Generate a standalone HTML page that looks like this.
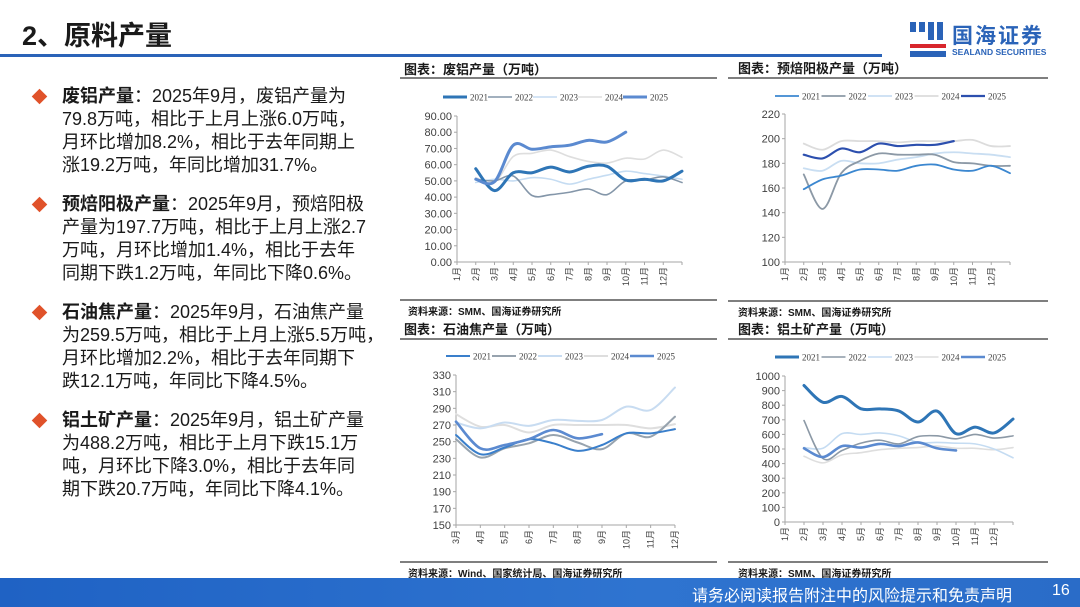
<!DOCTYPE html>
<html><head><meta charset="utf-8">
<style>
*{margin:0;padding:0;box-sizing:border-box}
body{width:1080px;height:607px;overflow:hidden;background:#fff;position:relative;font-family:"Liberation Sans","Noto Sans CJK SC",sans-serif;color:#1a1a1a}
.abs{position:absolute}
.h1{left:22px;top:14px;font-size:27px;font-weight:bold}
.bullet{left:34px;width:11px;height:11px;background:#e0522a;transform:rotate(45deg)}
.para{left:62px;font-size:18px;line-height:23px;white-space:nowrap}
.para b{font-weight:bold}
.ctitle{font-size:13px;font-weight:bold}
.src{font-size:10px;font-weight:bold}
.hl{height:2px;background:#7f7f7f}
</style></head><body>
<div class="abs h1">2、原料产量</div>
<div class="abs" style="left:0;top:54px;width:882px;height:3px;background:#2a63b8"></div>
<div class="abs" style="left:908px;top:20px;width:150px;height:40px">
 <svg width="40" height="40"><rect x="2" y="2" width="6" height="10" fill="#2a63b8"/><rect x="11" y="2" width="6" height="10" fill="#2a63b8"/><rect x="20" y="2" width="6" height="18" fill="#2a63b8"/><rect x="29" y="2" width="6" height="18" fill="#2a63b8"/><rect x="2" y="24" width="36" height="4" fill="#d8262c"/><rect x="2" y="31" width="36" height="6" fill="#2a63b8"/></svg>
 <div class="abs" style="left:44px;top:0;font-size:21px;font-weight:bold;color:#2a63b8;letter-spacing:2px">国海证券</div>
 <div class="abs" style="left:44px;top:27px;font-size:8.5px;font-weight:bold;color:#2a63b8;white-space:nowrap">SEALAND SECURITIES</div>
</div>

<div class="abs bullet" style="top:91px"></div>
<div class="abs para" style="top:85px"><b>废铝产量</b>：2025年9月，废铝产量为<br>79.8万吨，相比于上月上涨6.0万吨，<br>月环比增加8.2%，相比于去年同期上<br>涨19.2万吨，年同比增加31.7%。</div>
<div class="abs bullet" style="top:199px"></div>
<div class="abs para" style="top:193px"><b>预焙阳极产量</b>：2025年9月，预焙阳极<br>产量为197.7万吨，相比于上月上涨2.7<br>万吨，月环比增加1.4%，相比于去年<br>同期下跌1.2万吨，年同比下降0.6%。</div>
<div class="abs bullet" style="top:307px"></div>
<div class="abs para" style="top:301px"><b>石油焦产量</b>：2025年9月，石油焦产量<br>为259.5万吨，相比于上月上涨5.5万吨，<br>月环比增加2.2%，相比于去年同期下<br>跌12.1万吨，年同比下降4.5%。</div>
<div class="abs bullet" style="top:415px"></div>
<div class="abs para" style="top:409px"><b>铝土矿产量</b>：2025年9月，铝土矿产量<br>为488.2万吨，相比于上月下跌15.1万<br>吨，月环比下降3.0%，相比于去年同<br>期下跌20.7万吨，年同比下降4.1%。</div>

<div class="abs ctitle" style="left:404px;top:59px">图表：废铝产量（万吨）</div>
<div class="abs hl" style="left:400px;top:77px;width:317px"></div>
<div class="abs hl" style="left:400px;top:299px;width:317px"></div>
<div class="abs src" style="left:408px;top:303px">资料来源：SMM、国海证券研究所</div>

<div class="abs ctitle" style="left:738px;top:58px">图表：预焙阳极产量（万吨）</div>
<div class="abs hl" style="left:728px;top:77px;width:320px"></div>
<div class="abs hl" style="left:728px;top:300px;width:320px"></div>
<div class="abs src" style="left:738px;top:304px">资料来源：SMM、国海证券研究所</div>

<div class="abs ctitle" style="left:404px;top:319px">图表：石油焦产量（万吨）</div>
<div class="abs hl" style="left:400px;top:338px;width:317px"></div>
<div class="abs hl" style="left:400px;top:561px;width:317px"></div>
<div class="abs src" style="left:408px;top:565px">资料来源：Wind、国家统计局、国海证券研究所</div>

<div class="abs ctitle" style="left:738px;top:319px">图表：铝土矿产量（万吨）</div>
<div class="abs hl" style="left:728px;top:338px;width:320px"></div>
<div class="abs hl" style="left:728px;top:561px;width:320px"></div>
<div class="abs src" style="left:738px;top:565px">资料来源：SMM、国海证券研究所</div>

<div class="abs" style="left:0;top:578px;width:1080px;height:29px;background:linear-gradient(90deg,#1f62c4,#2f74d0 60%,#2a6cc8)"></div>
<div class="abs" style="left:692px;top:582px;font-size:16px;color:#fff;white-space:nowrap">请务必阅读报告附注中的风险提示和免责声明</div>
<div class="abs" style="left:1052px;top:582px;font-size:16px;color:#fff">16</div>

<svg id="charts" class="abs" style="left:0;top:0" width="1080" height="607"></svg>

<script>
const years = ["2021","2022","2023","2024","2025"];
const monthsFull = ["1月","2月","3月","4月","5月","6月","7月","8月","9月","10月","11月","12月"];
const monthsCoke = ["3月","4月","5月","6月","7月","8月","9月","10月","11月","12月"];
const yTicks1 = ["0.00","10.00","20.00","30.00","40.00","50.00","60.00","70.00","80.00","90.00"];
const yTicks2 = ["100","120","140","160","180","200","220"];
const yTicks3 = ["150","170","190","210","230","250","270","290","310","330"];
const yTicks4 = ["0","100","200","300","400","500","600","700","800","900","1000"];
// chart1 scrap aluminum
const scrap2021 = [57.5,44,55,55,58.5,55.5,59,59,50.5,51,50,56];
const scrap2022 = [51,50,53,41,41.5,43,45,41.5,50,50.5,52.5,49];
const scrap2023 = [49,51,50,52,51,48,51,53.5,56,54.5,53,51];
const scrap2024 = [52,49,65,67,69,65,62,61,64,63.5,69,64.5];
const scrap2025 = [51,49.5,72,69.5,71,72,75,74,80];
// chart2 anode
const anode2021 = [159,167,170,175,175,174,178,179,175,174,178,172];
const anode2022 = [171,143,172,182,188,187,187,187,181,180,178,178];
const anode2023 = [176,174,182,180,180,183,185,188,189,188,187,185];
const anode2024 = [196,191,198,198,198,197,198,198,198,199,194,194];
const anode2025 = [187,184,192,189,196,194,195,195,198];
// chart3 petroleum coke (Mar-Dec)
const coke2021 = [258,235,243,253,248,239,246,260,260,265];
const coke2022 = [253,231,242,248,258,249,241,260,256,280];
const coke2023 = [273,266,273,269,276,275,276,292,288,315];
const coke2024 = [283,268,270,261,270,270,270,270,266,271];
const coke2025 = [274,242,246,253,264,254,259];
// chart4 bauxite
const baux2021 = [935,820,860,775,775,760,685,760,605,650,610,705];
const baux2022 = [695,435,490,540,560,535,585,590,570,600,575,590];
const baux2023 = [510,505,605,600,610,590,545,545,540,535,500,440];
const baux2024 = [450,405,460,475,495,505,510,520,505,505,495,510];
const baux2025 = [505,445,520,510,535,520,545,505,490];

const NS="http://www.w3.org/2000/svg";
const svg=document.getElementById('charts');
function mk(tag,attrs,parent){const e=document.createElementNS(NS,tag);for(const k in attrs)e.setAttribute(k,attrs[k]);(parent||svg).appendChild(e);return e;}
function smooth(pts){let d="M"+pts[0][0]+","+pts[0][1];for(let i=0;i<pts.length-1;i++){const p0=pts[i-1]||pts[i],p1=pts[i],p2=pts[i+1],p3=pts[i+2]||p2;const c1=[p1[0]+(p2[0]-p0[0])/6,p1[1]+(p2[1]-p0[1])/6],c2=[p2[0]-(p3[0]-p1[0])/6,p2[1]-(p3[1]-p1[1])/6];d+=" C"+c1[0]+","+c1[1]+" "+c2[0]+","+c2[1]+" "+p2[0]+","+p2[1];}return d;}

function drawChart(id,cfg,series,styles){
  const g=mk('g',{});
  
  
  const ymin=parseFloat(cfg.yt[0]),ymax=parseFloat(cfg.yt[cfg.yt.length-1]);
  const Y=v=>cfg.y0-(v-ymin)/(ymax-ymin)*(cfg.y0-cfg.y1);
  const X=i=>cfg.x0+i*cfg.dx;
  const ya=mk('line',{x1:cfg.x0,y1:cfg.y1,x2:cfg.x0,y2:cfg.y0,stroke:'#a6a6a6','stroke-width':1},g);
  
  
  const xa=mk('line',{x1:cfg.x0,y1:cfg.y0,x2:X(cfg.nt),y2:cfg.y0,stroke:'#a6a6a6','stroke-width':1},g);
  
  
  cfg.yt.forEach(t=>{const y=Y(parseFloat(t));
    mk('line',{x1:cfg.x0-3,y1:y,x2:cfg.x0,y2:y,stroke:'#a6a6a6'},g);
    const tx=mk('text',{x:cfg.x0-5,y:y+4,'text-anchor':'end','font-size':11,fill:'#404040','font-family':'Liberation Sans, sans-serif'},g);
    tx.textContent=t;
    
    
  });
  for(let i=0;i<=cfg.nt;i++) mk('line',{x1:X(i),y1:cfg.y0,x2:X(i),y2:cfg.y0+3,stroke:'#a6a6a6'},g);
  cfg.xl.forEach((t,i)=>{const x=X(i);
    const tx=mk('text',{x:0,y:0,transform:`translate(${x+3},${cfg.y0+5}) rotate(-90)`,'text-anchor':'end','font-size':9,fill:'#404040','font-family':'Liberation Sans, Noto Sans CJK SC, sans-serif'},g);
    tx.textContent=t;
    
    
  });
  years.forEach((yr,k)=>{const lx=cfg.lx+k*cfg.lw;
    const ll=mk('line',{x1:lx,y1:cfg.ly,x2:lx+24,y2:cfg.ly,stroke:styles[k][0],'stroke-width':styles[k][1]},g);
    
    
    const lt=mk('text',{x:lx+27,y:cfg.ly+3.5,'font-size':9,fill:'#404040','font-family':'Liberation Serif, serif'},g);
    lt.textContent=yr;
    
    
  });
  [3,2,1,0,4].forEach(k=>{const pts=series[k].map((v,i)=>[X(i+cfg.off),Y(v)]);
    const p=mk('path',{d:smooth(pts),fill:'none',stroke:styles[k][0],'stroke-width':styles[k][1],'stroke-linejoin':'round','stroke-linecap':'round'},g);
    
    
  });
}
drawChart('scrap-aluminum-chart',{x0:457,dx:18.75,nt:12,off:1,y0:262,y1:116,yt:yTicks1,xl:monthsFull,lx:443,lw:45,ly:97},
 [scrap2021,scrap2022,scrap2023,scrap2024,scrap2025],
 [['#2e75b6',3],['#8496a9',1.6],['#c5dcf2',1.6],['#dedede',1.6],['#5b8ad0',3]]);
drawChart('anode-chart',{x0:785,dx:18.75,nt:12,off:1,y0:262,y1:114,yt:yTicks2,xl:monthsFull,lx:775,lw:46.5,ly:96},
 [anode2021,anode2022,anode2023,anode2024,anode2025],
 [['#3b87d0',1.8],['#8c99a6',1.8],['#c9def2',1.8],['#dcdcdc',1.8],['#2c4fae',2.2]]);
drawChart('petroleum-coke-chart',{x0:456,dx:24.33,nt:9,off:0,y0:525,y1:375,yt:yTicks3,xl:monthsCoke,lx:446,lw:46,ly:356},
 [coke2021,coke2022,coke2023,coke2024,coke2025],
 [['#3a7fcb',2],['#97a3ae',2],['#c8dcf1',2],['#dedede',2],['#5b8ad0',2.6]]);
drawChart('bauxite-chart',{x0:785,dx:19,nt:12,off:1,y0:522,y1:376,yt:yTicks4,xl:monthsFull,lx:775,lw:46.5,ly:357},
 [baux2021,baux2022,baux2023,baux2024,baux2025],
 [['#2e75b6',3],['#8c99a6',1.6],['#c5dcf2',1.6],['#dedede',1.6],['#5b8ad0',2.6]]);
</script>
</body></html>
